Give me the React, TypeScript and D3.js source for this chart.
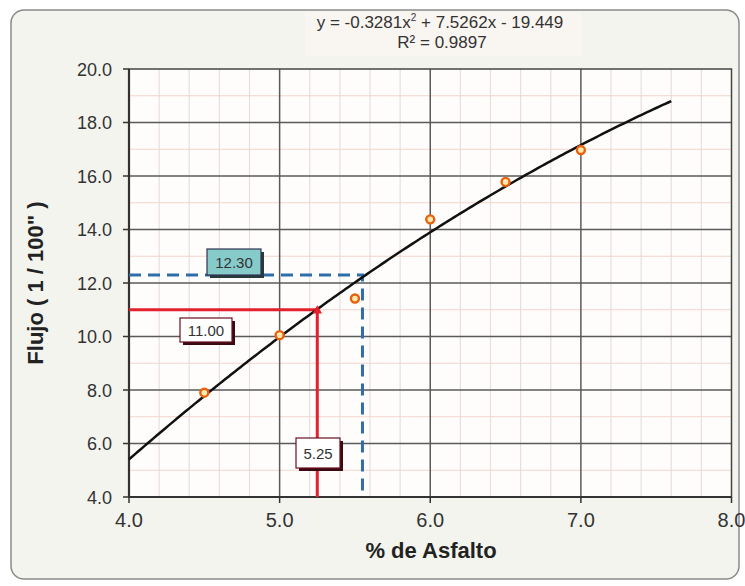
import React from "react";
import * as d3 from "d3";

// Marshall test: flow vs asphalt content
const asphaltPct = [4.5, 5.0, 5.5, 6.0, 6.5, 7.0];
const flowValues = [7.9, 10.05, 11.42, 14.38, 15.78, 16.97];

// Quadratic trendline y = a x^2 + b x + c
const fitCoefs = [-0.3281, 7.5262, -19.449];
const fitRange = [4.0, 7.6];
const fitLabel = ["y = -0.3281x", " + 7.5262x - 19.449"];
const r2Label = "R² = 0.9897";

const xTicks = [4, 5, 6, 7, 8];
const yTicks = [4, 6, 8, 10, 12, 14, 16, 18, 20];

// Design readings
const flowAtOptimum = 11.0;
const optimumPct = 5.25;
const flowMaxRef = 12.3;
const pctAtFlowMaxRef = 5.55;

const W = 745;
const H = 586;
const plot = { left: 129, right: 731.5, top: 69, bottom: 497 };
const FONT = "'Liberation Sans', Arial, sans-serif";

const fit = (x: number) => fitCoefs[0] * x * x + fitCoefs[1] * x + fitCoefs[2];

export default function App() {
  const x = d3.scaleLinear().domain([4, 8]).range([plot.left, plot.right]);
  const y = d3.scaleLinear().domain([4, 20]).range([plot.bottom, plot.top]);

  const minorX = d3.range(4, 8.0001, 0.2).filter((v) => Math.abs(v - Math.round(v)) > 1e-6);
  const minorY = d3.range(5, 20, 2);

  const curvePts: [number, number][] = d3
    .range(fitRange[0], fitRange[1] + 1e-9, 0.02)
    .map((v) => [x(v), y(fit(v))]);
  const line = d3.line();

  const fmt = d3.format(".1f");
  const fmt2 = d3.format(".2f");

  const box = (
    cx: number,
    cy: number,
    w: number,
    h: number,
    text: string,
    fill: string,
    stroke: string,
    shadow: string
  ) => (
    <g>
      <rect x={cx - w / 2 + 3} y={cy - h / 2 + 3} width={w} height={h} fill={shadow} />
      <rect x={cx - w / 2} y={cy - h / 2} width={w} height={h} fill={fill} stroke={stroke} strokeWidth={1.2} />
      <text x={cx} y={cy + 5.5} textAnchor="middle" fontSize={15} fill="#333" fontFamily={FONT}>
        {text}
      </text>
    </g>
  );

  return (
    <svg
      width={W}
      height={H}
      style={{ position: "absolute", left: 0, top: 0, background: "#ffffff" }}
    >
      {/* chart frame */}
      <rect x={11} y={10} width={728} height={569} rx={13} fill="#f4f4ef" stroke="#8a8a8a" strokeWidth={1.5} />

      {/* trendline equation */}
      <rect x={305} y={12} width={276} height={44} fill="#f9f5f1" />
      <text x={440} y={28} textAnchor="middle" fontSize={17} fill="#333" fontFamily={FONT}>
        {fitLabel[0]}
        <tspan dy={-7} fontSize={10}>2</tspan>
        <tspan dy={7}>{fitLabel[1]}</tspan>
      </text>
      <text x={442} y={48} textAnchor="middle" fontSize={17} fill="#333" fontFamily={FONT}>
        {r2Label}
      </text>

      {/* plot area */}
      <rect x={plot.left} y={plot.top} width={plot.right - plot.left} height={plot.bottom - plot.top} fill="#fffdfb" />

      {/* minor grid */}
      {minorX.map((v) => (
        <line key={"mx" + v} x1={x(v)} x2={x(v)} y1={plot.top} y2={plot.bottom} stroke="#e9dde2" strokeWidth={1.2} />
      ))}
      {minorY.map((v) => (
        <line key={"my" + v} x1={plot.left} x2={plot.right} y1={y(v)} y2={y(v)} stroke="#f1d6cc" strokeWidth={1.2} />
      ))}

      {/* major grid */}
      {xTicks.slice(1, -1).map((v) => (
        <line key={"gx" + v} x1={x(v)} x2={x(v)} y1={plot.top} y2={plot.bottom} stroke="#5a5a5a" strokeWidth={1.5} />
      ))}
      {yTicks.slice(1, -1).map((v) => (
        <line key={"gy" + v} x1={plot.left} x2={plot.right} y1={y(v)} y2={y(v)} stroke="#5a5a5a" strokeWidth={1.5} />
      ))}

      {/* plot border */}
      <rect x={plot.left} y={plot.top} width={plot.right - plot.left} height={plot.bottom - plot.top} fill="none" stroke="#444" strokeWidth={1.5} />
      <line x1={plot.left} x2={plot.left} y1={plot.top} y2={plot.bottom} stroke="#333" strokeWidth={2.2} />
      <line x1={plot.left} x2={plot.right} y1={plot.bottom} y2={plot.bottom} stroke="#333" strokeWidth={2.2} />

      {/* ticks and tick labels */}
      {yTicks.map((v) => (
        <g key={"ty" + v}>
          <line x1={plot.left - 6} x2={plot.left} y1={y(v)} y2={y(v)} stroke="#333" strokeWidth={1.5} />
          <text x={112} y={y(v) + 6.5} textAnchor="end" fontSize={18} fill="#333" fontFamily={FONT}>
            {fmt(v)}
          </text>
        </g>
      ))}
      {xTicks.map((v) => (
        <g key={"tx" + v}>
          <line x1={x(v)} x2={x(v)} y1={plot.bottom} y2={plot.bottom + 6} stroke="#333" strokeWidth={1.5} />
          <text x={x(v)} y={527} textAnchor="middle" fontSize={20} fill="#333" fontFamily={FONT}>
            {fmt(v)}
          </text>
        </g>
      ))}

      {/* axis titles */}
      <text
        transform={`translate(43,283) rotate(-90)`}
        textAnchor="middle"
        fontSize={22}
        fontWeight="bold"
        fill="#222"
        fontFamily={FONT}
      >
        Flujo ( 1 / 100" )
      </text>
      <text x={431} y={558} textAnchor="middle" fontSize={22} fontWeight="bold" fill="#222" fontFamily={FONT}>
        % de Asfalto
      </text>

      {/* reference lines: flow limit */}
      <path
        d={`M${x(4)},${y(flowMaxRef)}H${x(pctAtFlowMaxRef)}V${y(4)}`}
        fill="none"
        stroke="#2f6eaa"
        strokeWidth={3}
        strokeDasharray="12 7"
      />
      {/* reference lines: flow at optimum */}
      <path
        d={`M${x(4)},${y(flowAtOptimum)}H${x(optimumPct)}V${y(4)}`}
        fill="none"
        stroke="#e3202b"
        strokeWidth={3}
      />

      {/* trendline */}
      <path d={line(curvePts) ?? ""} fill="none" stroke="#111" strokeWidth={2.5} />

      {/* observed points */}
      {asphaltPct.map((v, i) => (
        <circle key={"p" + i} cx={x(v)} cy={y(flowValues[i])} r={4} fill="#ffe9b0" stroke="#e8600c" strokeWidth={2.4} />
      ))}

      {/* optimum marker */}
      <path
        d={d3.symbol(d3.symbolTriangle, 40)() ?? ""}
        transform={`translate(${x(optimumPct)},${y(flowAtOptimum) + 1})`}
        fill="#e3202b"
      />

      {/* value labels */}
      {box(234, 262, 54, 26, fmt2(flowMaxRef), "#86caca", "#335", "#2a3a3a")}
      {box(206, 330, 52, 24, fmt2(flowAtOptimum), "#ffffff", "#6a1020", "#3a0a10")}
      {box(318, 453, 44, 30, fmt2(optimumPct), "#ffffff", "#6a1020", "#3a0a10")}
    </svg>
  );
}
